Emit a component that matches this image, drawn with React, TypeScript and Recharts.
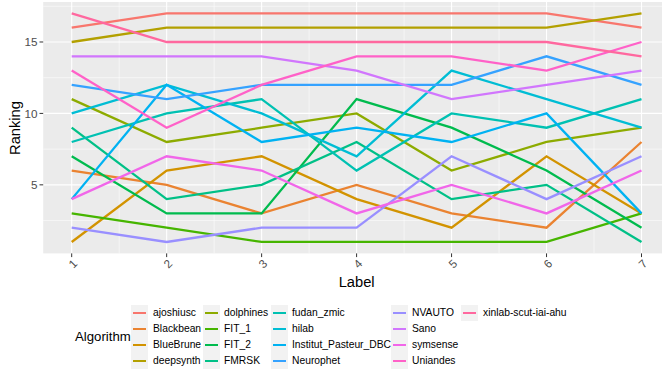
import { LineChart, Line, XAxis, YAxis, CartesianGrid } from 'recharts';

const labels = [1, 2, 3, 4, 5, 6, 7];

const algorithmNames = [
  'ajoshiusc', 'Blackbean', 'BlueBrune', 'deepsynth', 'dolphines', 'FIT_1',
  'FIT_2', 'FMRSK', 'fudan_zmic', 'hilab', 'Institut_Pasteur_DBC', 'Neurophet',
  'NVAUTO', 'Sano', 'symsense', 'Uniandes', 'xinlab-scut-iai-ahu',
];

const ajoshiusc = [16, 17, 17, 17, 17, 17, 16];
const blackbean = [6, 5, 3, 5, 3, 2, 8];
const blueBrune = [1, 6, 7, 4, 2, 7, 3];
const deepsynth = [15, 16, 16, 16, 16, 16, 17];
const dolphines = [11, 8, 9, 10, 6, 8, 9];
const fit1 = [3, 2, 1, 1, 1, 1, 3];
const fit2 = [7, 3, 3, 11, 9, 6, 2];
const fmrsk = [9, 4, 5, 8, 4, 5, 1];
const fudanZmic = [8, 10, 11, 6, 10, 9, 11];
const hilab = [10, 12, 10, 7, 13, 11, 9];
const institutPasteur = [4, 12, 8, 9, 8, 10, 3];
const neurophet = [12, 11, 12, 12, 12, 14, 12];
const nvauto = [2, 1, 2, 2, 7, 4, 7];
const sano = [14, 14, 14, 13, 11, 12, 13];
const symsense = [4, 7, 6, 3, 5, 3, 6];
const uniandes = [13, 9, 12, 14, 14, 13, 15];
const xinlab = [17, 15, 15, 15, 15, 15, 14];

const seriesValues = [
  ajoshiusc, blackbean, blueBrune, deepsynth, dolphines, fit1, fit2, fmrsk,
  fudanZmic, hilab, institutPasteur, neurophet, nvauto, sano, symsense, uniandes, xinlab,
];

const yTicks = [5, 10, 15];

// ggplot hue palette, 17 levels
const palette = [
  '#F8766D', '#EA8331', '#D29300', '#B3A000', '#8DAB00', '#46B500',
  '#00BB4E', '#00C087', '#00C1B2', '#00BDD4', '#00B2F2', '#35A2FF',
  '#998FFF', '#D176FD', '#F166E9', '#FF61C8', '#FF689F',
];

const data = labels.map((label, i) => {
  const row: Record<string, number> = { label };
  algorithmNames.forEach((name, s) => {
    row[name] = seriesValues[s][i];
  });
  return row;
});

const FONT = '"Liberation Sans", Arial, sans-serif';

const renderXTick = ({ x, y, payload }: any) => {
  const cy = y + 4.5;
  return (
    <text
      x={x + 1}
      y={cy}
      transform={`rotate(-45 ${x + 1} ${cy})`}
      textAnchor="middle"
      dominantBaseline="central"
      fontSize={11.7}
      style={{ fill: '#4D4D4D' }}
      fontFamily={FONT}
    >
      {payload.value}
    </text>
  );
};

const renderYTick = ({ x, y, payload }: any) => (
  <text
    x={x}
    y={y}
    textAnchor="end"
    dominantBaseline="central"
    fontSize={11.7}
    style={{ fill: '#4D4D4D' }}
    fontFamily={FONT}
  >
    {payload.value}
  </text>
);

const legendCols = [
  { key: 131, text: 153 },
  { key: 203, text: 224 },
  { key: 271, text: 292 },
  { key: 391, text: 412 },
  { key: 461, text: 483 },
];

const LegendBlock = () => (
  <>
    <div
      style={{
        position: 'absolute', left: 75, top: 329, fontSize: 13.2,
        fontFamily: FONT, color: '#000', lineHeight: '16px',
      }}
    >
      Algorithm
    </div>
    {algorithmNames.map((name, i) => {
      const col = legendCols[Math.floor(i / 4)];
      const top = 304.5 + (i % 4) * 16;
      return (
        <div key={name}>
          <div
            style={{
              position: 'absolute', left: col.key, top, width: 17, height: 16,
              background: '#F2F2F2',
            }}
          >
            <div
              style={{
                position: 'absolute', left: 2, right: 2, top: 7, height: 2,
                background: palette[i],
              }}
            />
          </div>
          <div
            style={{
              position: 'absolute', left: col.text, top, height: 16,
              lineHeight: '16px', fontSize: 10.3, fontFamily: FONT,
              color: '#000', whiteSpace: 'nowrap',
            }}
          >
            {name}
          </div>
        </div>
      );
    })}
  </>
);

export default function App() {
  return (
    <div
      style={{
        position: 'absolute', left: 0, top: 0, width: 662, height: 371,
        overflow: 'hidden', background: '#fff',
      }}
    >
      <LineChart
        width={671}
        height={371}
        data={data}
        margin={{ top: 2, right: 1, bottom: 87.6, left: 0.2 }}
      >
        <CartesianGrid
          fill="#EBEBEB"
          stroke="#FFFFFF"
          strokeWidth={0.55}
          horizontalValues={[2.5, 7.5, 12.5, 17.5]}
          verticalValues={[1.5, 2.5, 3.5, 4.5, 5.5, 6.5]}
        />
        <CartesianGrid
          fill="none"
          stroke="#FFFFFF"
          strokeWidth={1.1}
          horizontalValues={yTicks}
          verticalValues={labels}
        />
        <XAxis
          dataKey="label"
          type="number"
          domain={[0.7, 7.3]}
          ticks={labels}
          axisLine={false}
          tickLine={{ stroke: '#333333', strokeWidth: 1 }}
          tickSize={3.7}
          tickMargin={2}
          height={30}
          tick={renderXTick}
          interval={0}
        />
        <YAxis
          type="number"
          domain={[0.2, 17.8]}
          ticks={yTicks}
          axisLine={false}
          tickLine={{ stroke: '#333333', strokeWidth: 1 }}
          tickSize={3.7}
          tickMargin={2}
          width={43}
          tick={renderYTick}
          interval={0}
        />
        {algorithmNames.map((name, i) => (
          <Line
            key={name}
            dataKey={name}
            type="linear"
            stroke={palette[i]}
            strokeWidth={2.3}
            dot={false}
            activeDot={false}
            isAnimationActive={false}
          />
        ))}
      </LineChart>
      <div
        style={{
          position: 'absolute', left: 356.6, top: 282, transform: 'translate(-50%, -50%)',
          fontSize: 14.7, fontFamily: FONT, color: '#000', whiteSpace: 'nowrap',
        }}
      >
        Label
      </div>
      <div
        style={{
          position: 'absolute', left: 15, top: 128,
          transform: 'translate(-50%, -50%) rotate(-90deg)',
          fontSize: 14.7, fontFamily: FONT, color: '#000', whiteSpace: 'nowrap',
        }}
      >
        Ranking
      </div>
      <LegendBlock />
    </div>
  );
}
